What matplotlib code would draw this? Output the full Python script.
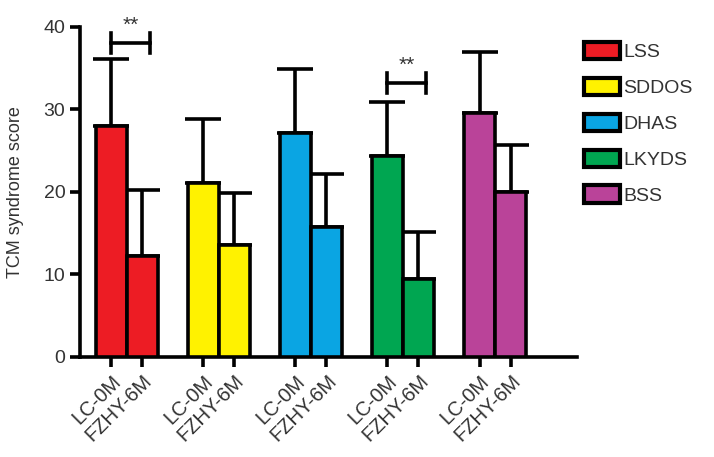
import matplotlib.pyplot as plt
import numpy as np

plt.rcParams['font.family'] = ['Liberation Sans', 'DejaVu Sans']

# Datos
groups = ["LSS", "SDDOS", "DHAS", "LKYDS", "BSS"]
colors = ["#ED1C24", "#FFF200", "#0AA5E3", "#00A651", "#BA4399"]
lc_mean = [28.0, 21.1, 27.2, 24.3, 29.6]
lc_err = [8.1, 7.7, 7.7, 6.6, 7.4]
fz_mean = [12.2, 13.6, 15.7, 9.4, 20.0]
fz_err = [8.0, 6.3, 6.5, 5.8, 5.7]
tick_names = ["LC-0M", "FZHY-6M"]
sig_groups = [0, 3]
sig_height = [38.1, 33.2]

fig = plt.figure(figsize=(7.14, 4.57), dpi=100)
ax = fig.add_axes([0.112, 0.219, 0.696, 0.722])

w = 0.337
x = np.arange(len(groups))
lw = 2.6
for i, g in enumerate(groups):
    ax.bar(x[i] - w/2, lc_mean[i], w, color=colors[i], edgecolor="black", linewidth=lw, label=g, zorder=3)
    ax.bar(x[i] + w/2, fz_mean[i], w, color=colors[i], edgecolor="black", linewidth=lw, zorder=3)
    ax.errorbar(x[i] - w/2, lc_mean[i], yerr=[[0], [lc_err[i]]], color="black", elinewidth=lw,
                capsize=13, capthick=lw, zorder=2)
    ax.errorbar(x[i] + w/2, fz_mean[i], yerr=[[0], [fz_err[i]]], color="black", elinewidth=lw,
                capsize=13, capthick=lw, zorder=2)

# Significancia
for g, h in zip(sig_groups, sig_height):
    x0 = x[g] - w/2
    x1 = x[g] + w/2 + 0.08
    ax.plot([x0, x1], [h, h], color="black", lw=lw, clip_on=False)
    ax.plot([x0, x0], [h - 1.2, h + 1.2], color="black", lw=lw, clip_on=False)
    ax.plot([x1, x1], [h - 1.2, h + 1.2], color="black", lw=lw, clip_on=False)
    ax.text((x0 + x1) / 2, h + 1.0, "**", ha="center", va="bottom", fontsize=15,
            color="#333333", clip_on=False)

ax.set_xlim(-0.51, 4.89)
ax.set_ylim(0, 40)
ax.set_yticks([0, 10, 20, 30, 40])
ax.tick_params(axis="y", labelsize=14, width=lw, length=7, direction="out", colors="black",
               labelcolor="#333333")
ax.tick_params(axis="x", labelsize=14.5, width=lw, length=7, direction="out", labelcolor="#333333")
pos = np.concatenate([[xi - w/2, xi + w/2] for xi in x])
ax.set_xticks(pos)
ax.set_xticklabels(tick_names * len(groups), rotation=45, ha="right", rotation_mode="anchor")
for s in ["top", "right"]:
    ax.spines[s].set_visible(False)
for s in ["left", "bottom"]:
    ax.spines[s].set_linewidth(lw)
ax.set_ylabel("TCM syndrome score", fontsize=13, color="#333333", labelpad=14)

leg = ax.legend(loc="upper left", bbox_to_anchor=(0.99, 0.99), frameon=False, fontsize=14,
                handlelength=1.85, handleheight=1.0, handletextpad=0.2, labelspacing=0.85,
                borderaxespad=0.2)
for t in leg.get_texts():
    t.set_color("#333333")
for p in leg.get_patches():
    p.set_linewidth(3)

plt.savefig("out.png", dpi=100)
